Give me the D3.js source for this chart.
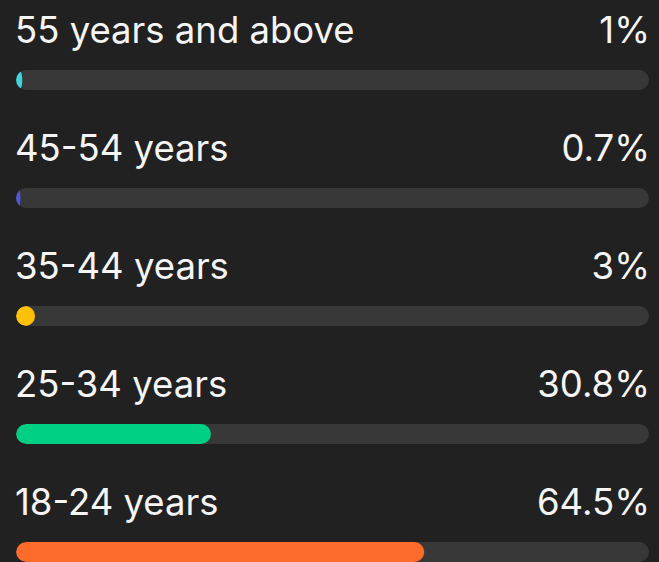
<!DOCTYPE html>
<html>
<head>
<meta charset="utf-8">
<script src="https://cdn.jsdelivr.net/npm/d3@7"></script>
<style>
  html, body { margin: 0; padding: 0; background: #212121; overflow: hidden; }
  svg { display: block; }
</style>
</head>
<body>
<script>
// age groups, top to bottom
const groups = ['55 years and above', '45-54 years', '35-44 years', '25-34 years', '18-24 years']
const shares = [1, 0.7, 3, 30.8, 64.5]
const labels = ['1%', '0.7%', '3%', '30.8%', '64.5%']
const colors = ['#3fd3dc', '#5057d6', '#ffc107', '#00d084', '#ff6b2a']

const width = 659
const height = 562
const margin = { left: 16, right: 10 }
const barH = 20

const svg = d3.select('body').append('svg')
  .attr('width', width)
  .attr('height', height)

svg.append('rect').attr('width', width).attr('height', height).attr('fill', '#212121')

const x = d3.scaleLinear().domain([0, 100]).range([margin.left, width - margin.right])

// row band: bar tops at 70, 188, ...
const y = d3.scaleBand().domain(groups).range([0, 118 * groups.length])

const rows = svg.selectAll('g.row')
  .data(groups)
  .enter().append('g')
  .attr('class', 'row')
  .attr('transform', d => `translate(0, ${y(d)})`)

rows.append('text')
  .attr('x', margin.left - 1)
  .attr('y', 43)
  .attr('fill', '#f5f5f5')
  .style('font-family', 'Inter, sans-serif')
  .style('font-size', '36.5px')
  .style('letter-spacing', '0px')
  .text(d => d)

rows.append('text')
  .attr('x', x(100) + 1)
  .attr('y', 43)
  .attr('text-anchor', 'end')
  .attr('fill', '#f5f5f5')
  .style('font-family', 'Inter, sans-serif')
  .style('font-size', '36.5px')
  .text((d, i) => labels[i])

rows.append('clipPath')
  .attr('id', (d, i) => 'clip' + i)
  .append('rect')
  .attr('x', x(0)).attr('y', 70)
  .attr('width', x(100) - x(0)).attr('height', barH)
  .attr('rx', barH / 2)

rows.append('rect')
  .attr('x', x(0)).attr('y', 70)
  .attr('width', x(100) - x(0)).attr('height', barH)
  .attr('rx', barH / 2)
  .attr('fill', '#383838')

rows.append('rect')
  .attr('clip-path', (d, i) => `url(#clip${i})`)
  .attr('x', x(0)).attr('y', 70)
  .attr('width', (d, i) => x(shares[i]) - x(0))
  .attr('height', barH)
  .attr('rx', (d, i) => Math.min(barH / 2, (x(shares[i]) - x(0)) / 2))
  .attr('ry', barH / 2)
  .attr('fill', (d, i) => colors[i])
</script>
</body>
</html>
